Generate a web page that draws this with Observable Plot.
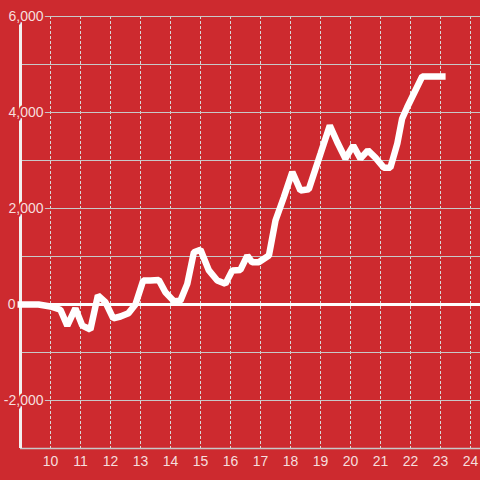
<!DOCTYPE html>
<html>
<head>
<meta charset="utf-8">
<script src="https://cdn.jsdelivr.net/npm/d3@7"></script>
<script src="https://cdn.jsdelivr.net/npm/@observablehq/plot@0.6"></script>
<style>
  html, body { margin: 0; padding: 0; background: #cd2a2f; }
  #chart svg { display: block; }
</style>
</head>
<body>
<div id="chart"></div>
<script>
const xs = [8.9, 9.6, 10.0, 10.33, 10.56, 10.83, 11.06, 11.33, 11.58, 11.83, 12.09, 12.33, 12.6, 12.83, 13.09, 13.33, 13.61, 13.83, 14.11, 14.33, 14.56, 14.78, 15.0, 15.28, 15.56, 15.83, 16.06, 16.33, 16.56, 16.72, 16.94, 17.28, 17.5, 17.78, 18.06, 18.33, 18.61, 19.0, 19.31, 19.56, 19.83, 20.09, 20.33, 20.58, 20.83, 21.11, 21.33, 21.56, 21.72, 21.89, 22.39, 23.17];
const vs = [0, 0, -40, -110, -440, -80, -440, -520, 190, 50, -290, -250, -180, 0, 500, 500, 510, 255, 70, 80, 430, 1090, 1140, 710, 500, 430, 710, 720, 1020, 880, 880, 1020, 1750, 2240, 2760, 2375, 2400, 3140, 3730, 3380, 3040, 3310, 3040, 3210, 3060, 2850, 2850, 3350, 3870, 4110, 4750, 4750];

const xTicks = [10, 11, 12, 13, 14, 15, 16, 17, 18, 19, 20, 21, 22, 23, 24];
const yGrid = [-2000, -1000, 1000, 2000, 3000, 4000, 5000, 6000];
const yLabelValues = [6000, 4000, 2000, -2000];
const yLabelTexts = ["6,000", "4,000", "2,000", "-2,000"];

const bg = "#cd2a2f";
const textColor = "#f6dede";
const data = xs.map((x, i) => ({x, v: vs[i]}));
const yLabels = yLabelValues.map((v, i) => ({v, t: yLabelTexts[i]}));

const chart = Plot.plot({
  width: 480,
  height: 480,
  marginTop: 16,
  marginBottom: 32,
  marginLeft: 20,
  marginRight: 0,
  style: {background: bg, fontFamily: "'Liberation Sans', Arial, sans-serif", fontSize: "14px"},
  x: {domain: [9, 24.3333], axis: null},
  y: {domain: [-3000, 6000], axis: null},
  marks: [
    Plot.gridX(xTicks, {stroke: "#d8d8d8", strokeOpacity: 1, strokeWidth: 1, strokeDasharray: "3,2"}),
    Plot.gridY(yGrid, {stroke: "#c8c8c8", strokeOpacity: 1, strokeWidth: 1}),
    Plot.ruleY([-3000], {stroke: "#c8c8c8", strokeWidth: 1.5}),
    Plot.ruleX([9], {stroke: "#f3f0f0", strokeWidth: 3}),
    Plot.ruleY([0], {stroke: "#ffffff", strokeWidth: 3}),
    Plot.line(data, {x: "x", y: "v", stroke: "#ffffff", strokeWidth: 6.5, strokeLinejoin: "miter", strokeLinecap: "butt"}),
    Plot.text(yLabels, {x: () => 9, y: "v", text: "t", textAnchor: "end", dx: 23, fill: textColor, stroke: bg, strokeWidth: 4, paintOrder: "stroke", fontSize: 14}),
    Plot.text(["0"], {x: () => 9, y: () => 0, text: d => d, textAnchor: "end", dx: -5, fill: textColor, stroke: bg, strokeWidth: 4, paintOrder: "stroke", fontSize: 14}),
    Plot.text(xTicks, {x: d => d, y: () => -3000, dy: 13, text: d => String(d), fill: textColor, fontSize: 14})
  ]
});
document.getElementById("chart").appendChild(chart);
</script>
</body>
</html>
